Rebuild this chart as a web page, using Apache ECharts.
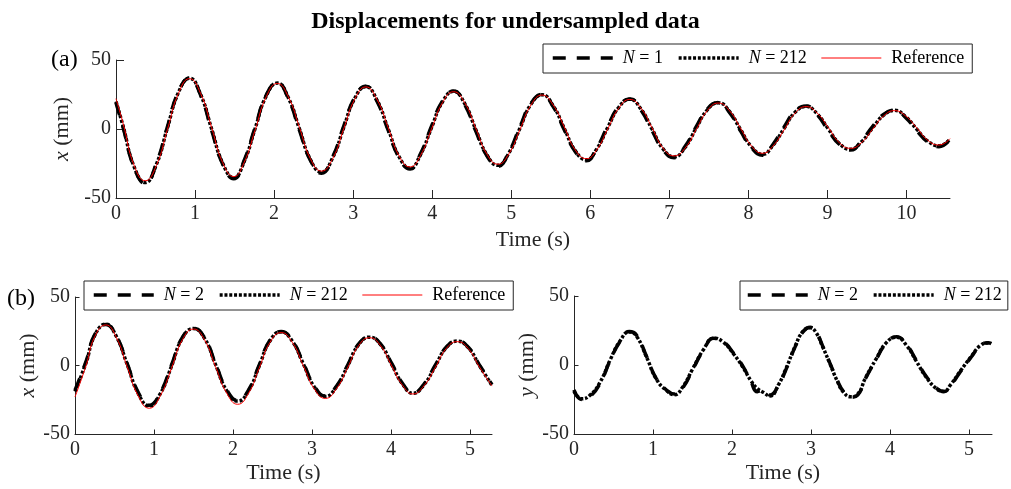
<!DOCTYPE html>
<html>
<head>
<meta charset="utf-8">
<title>Displacements for undersampled data</title>
<script src="https://cdn.jsdelivr.net/npm/echarts@6/dist/echarts.min.js"></script>
<style>
  html, body { margin: 0; padding: 0; background: #fff; }
  #chart { width: 1011px; height: 489px; }
</style>
</head>
<body>
<div id="chart"></div>
<script>
// (a) x displacement, full record
var tTop = [0, 0.09, 0.23, 0.37, 0.51, 0.65, 0.79, 0.93, 1.07, 1.21, 1.35, 1.49, 1.62, 1.76, 1.90, 2.04,
  2.18, 2.32, 2.46, 2.60, 2.74, 2.88, 3.02, 3.16, 3.30, 3.44, 3.58, 3.72, 3.85, 3.99, 4.13, 4.27,
  4.41, 4.55, 4.69, 4.83, 4.97, 5.11, 5.25, 5.39, 5.53, 5.67, 5.81, 5.95, 6.08, 6.22, 6.36, 6.50,
  6.64, 6.78, 6.92, 7.06, 7.20, 7.34, 7.48, 7.62, 7.76, 7.90, 8.04, 8.18, 8.31, 8.45, 8.59, 8.73,
  8.87, 9.01, 9.15, 9.29, 9.43, 9.57, 9.71, 9.85, 9.99, 10.13, 10.27, 10.41, 10.55];
var topN1 = [19, 1, -28, -39.5,
  -25, 1.5, 27, 37, 24.5, -1, -25.5, -36,
  -23, 1.2, 24.5, 33.5, 22, -0.8, -22.8, -32,
  -20.4, 2, 22.8, 31, 20.4, -0.5, -20.6, -29,
  -18.2, 1.8, 20.3, 27.5, 17.9, -1.3, -19.2, -27,
  -16.8, 1.6, 18.6, 25, 16.2, -0.5, -16.4, -23,
  -14, 2, 16.3, 21.8, 13.9, -1, -15, -20.8,
  -12.6, 1.7, 14.5, 19.2, 12.1, -1.4, -13.6, -19,
  -11.2, 1.3, 12.7, 16.6, 10.3, -0.9, -11.1, -15.3,
  -8.7, 1.7, 10.6, 13.7, 8.2, -1.2, -9.4, -12.8,
  -7.5];
var topN212 = [20, 2, -27.5, -38.8,
  -25.8, 0.8, 26.5, 36.8, 25, 0, -25, -35.3,
  -23.7, 0.4, 24, 33.3, 22.6, 0.2, -22.3, -31.3,
  -21, 1, 22.2, 30.8, 21, 0.5, -20, -28.5,
  -18.8, 0.8, 19.7, 27.3, 18.5, -0.3, -18.6, -26.3,
  -17.4, 0.6, 18, 24.8, 16.8, 0.5, -15.8, -22.3,
  -14.6, 1, 15.7, 21.6, 14.5, 0, -14.4, -20.2,
  -13.2, 0.7, 13.9, 19, 12.7, -0.4, -13, -18.3,
  -11.8, 0.3, 12.1, 16.4, 10.9, 0.1, -10.5, -14.7,
  -9.3, 0.7, 10, 13.5, 8.8, -0.2, -8.8, -12.2,
  -7.3];
var topRef = [22, 4, -26.5, -37.5,
  -26.5, -0.5, 25.8, 36.5, 25.8, 1, -24.4, -34.5,
  -24.4, -0.8, 23.3, 33, 23.3, 1.2, -21.6, -30.5,
  -21.6, 0, 21.6, 30.5, 21.6, 1.5, -19.4, -27.5,
  -19.4, -0.2, 19.1, 27, 19.1, 0.7, -18, -25.5,
  -18, -0.4, 17.4, 24.6, 17.4, 1.5, -15.2, -21.5,
  -15.2, 0, 15.1, 21.4, 15.1, 1, -13.8, -19.5,
  -13.8, -0.3, 13.3, 18.8, 13.3, 0.6, -12.4, -17.6,
  -12.4, -0.7, 11.5, 16.2, 11.5, 1.1, -9.9, -14,
  -9.9, -0.3, 9.4, 13.3, 9.4, 0.8, -8.2, -11.6,
  -7];

// (b) left: x displacement
var tBL = [0, 0.14, 0.25, 0.39, 0.52, 0.66, 0.80, 0.94, 1.08, 1.22, 1.36, 1.50, 1.64, 1.78, 1.92, 2.06,
  2.20, 2.33, 2.47, 2.61, 2.75, 2.89, 3.03, 3.17, 3.31, 3.45, 3.59, 3.73, 3.87, 4.01, 4.15, 4.28,
  4.42, 4.56, 4.70, 4.84, 4.98, 5.12, 5.28];
var blN2 = [-18, 3, 22.5, 30,
  22, 1.5, -19.5, -29, -20, 0, 20.5, 27.2,
  20.2, 1.3, -17.5, -25.5, -17.6, 0, 18.6, 24.8,
  18.2, 2, -15, -22.3, -15.2, 0, 15.6, 20.8,
  15.6, 1.5, -13.3, -20, -13.5, 0, 13.3, 18,
  13.3, 0.5, -14];
var blN212 = [-19, 2, 22, 30.2,
  21.6, 1, -20.3, -29.5, -20.6, -0.8, 20, 27,
  19.8, 0.6, -18.3, -26, -18.2, -0.7, 18.1, 24.6,
  17.8, 1.3, -15.6, -22.6, -15.6, -0.6, 15.2, 20.7,
  15.2, 0.8, -13.8, -20.3, -13.9, -0.6, 13, 17.8,
  13, 0, -14.5];
var blRef = [-23, 0, 21, 29.6,
  20.9, -0.8, -22.1, -31.2, -22.1, -2.3, 18.8, 26.6,
  18.8, -0.9, -20, -28.3, -20, -2.2, 17, 24,
  17, 0, -17, -24, -17, -1.9, 14.4, 20.3,
  14.4, -0.3, -14.7, -20.8, -14.7, -1.7, 12.3, 17.4,
  12.3, -1, -15];

// (b) right: y displacement
var tBR = [0, 0.10, 0.20, 0.33, 0.46, 0.58, 0.70, 0.79, 0.92, 1.04, 1.17, 1.27, 1.38, 1.50, 1.64, 1.77,
  1.89, 2.02, 2.14, 2.24, 2.32, 2.40, 2.48, 2.59, 2.68, 2.80, 2.90, 2.99, 3.06, 3.15, 3.24, 3.33,
  3.41, 3.50, 3.59, 3.69, 3.82, 3.95, 4.08, 4.21, 4.33, 4.46, 4.59, 4.68, 4.77, 4.89, 5.03, 5.14,
  5.24, 5.28];
var brN2 = [-18, -25, -23, -13.3, 3.6, 16.9, 24.2, 21.7, 6, -9.7, -18.1, -21, -16.2, -3.6, 10.9, 19.3,
  16.9, 8.5, -1.2, -12.1, -19.3, -18, -21.7, -14.5, -3.6, 13.3, 24.2, 27.3, 24.2, 13.3, 1.2, -10.9,
  -19.3, -23.4, -21.7, -9.7, 3.6, 15.7, 20.5, 14.5, 3.6, -8.5, -16.9, -19.3, -14.5, -4.8, 6, 13.8,
  16.2, 15.5];
var brN212 = [-19, -24.5, -22, -12.5, 4, 17.2, 24, 21, 5.5, -10, -18.5, -21.5, -15.5, -3, 11.3, 19.5,
  16.5, 8, -1.8, -11.5, -17, -20, -22.5, -14, -3, 13.8, 24.5, 27, 23.8, 12.8, 0.8, -11.4,
  -19.6, -23, -21.2, -9.2, 4, 16, 20.2, 14, 3, -9, -17.3, -19, -14, -4.3, 6.4, 14,
  16, 15.5];

var ticksTop = [0, 1, 2, 3, 4, 5, 6, 7, 8, 9, 10];
var ticksBottom = [0, 1, 2, 3, 4, 5];

var serif = 'Liberation Serif';
var ink = '#262626';

function pairs(t, v) {
  return t.map(function (x, i) { return [x, v[i]]; });
}

function xAxisFor(gi, max, ticks, tickLen, gap) {
  return {
    type: 'value', gridIndex: gi, min: 0, max: max,
    name: 'Time (s)', nameLocation: 'middle', nameGap: gap,
    nameTextStyle: { fontFamily: serif, fontSize: 22, color: ink },
    axisLine: { show: true, onZero: false, lineStyle: { color: ink, width: 1 } },
    axisTick: { show: true, inside: true, length: tickLen, customValues: ticks, lineStyle: { color: ink } },
    axisLabel: { customValues: ticks, margin: 6, fontFamily: serif, fontSize: 20, color: ink },
    splitLine: { show: false }
  };
}

function yAxisFor(gi, letter, tickLen) {
  return {
    type: 'value', gridIndex: gi, min: -50, max: 50, interval: 50,
    name: '{i|' + letter + '} (mm)', nameLocation: 'middle', nameGap: 31,
    nameTextStyle: {
      fontFamily: serif, fontSize: 22, color: ink,
      rich: { i: { fontFamily: serif, fontSize: 22, fontStyle: 'italic', color: ink } }
    },
    axisLine: { show: true, onZero: false, lineStyle: { color: ink, width: 1 } },
    axisTick: { show: true, inside: true, length: tickLen, lineStyle: { color: ink } },
    axisLabel: { margin: 5, fontFamily: serif, fontSize: 20, color: ink },
    splitLine: { show: false }
  };
}

var dashed = { color: '#000', width: 3.5, type: [13, 11] };
var dotted = { color: '#000', width: 3.5, type: [3, 1.8] };
var thinRed = { color: '#ff0000', width: 1 };

function line(name, gi, data, style) {
  return {
    name: name, type: 'line', xAxisIndex: gi, yAxisIndex: gi,
    data: data, showSymbol: false, symbol: 'none', smooth: 0.5,
    lineStyle: style, itemStyle: { color: style.color }
  };
}

function legendFor(left, top, names, padX) {
  return {
    left: left, top: top, width: 600, data: names, orient: 'horizontal',
    itemWidth: 60, itemHeight: 13, itemGap: 14,
    padding: [5, padX, 6, padX],
    borderColor: ink, borderWidth: 1, backgroundColor: '#fff',
    selectedMode: false,
    lineStyle: { width: 'inherit' },
    itemStyle: { color: 'rgba(0,0,0,0)', borderWidth: 0, opacity: 0 },
    textStyle: {
      fontFamily: serif, fontSize: 18, color: '#000', padding: [0, 0, 0, 5],
      rich: { i: { fontFamily: serif, fontSize: 18, fontStyle: 'italic', color: '#000' } }
    },
    formatter: function (name) {
      if (name.indexOf('N = ') === 0) return '{i|N} = ' + name.slice(4);
      return name;
    }
  };
}

var chart = echarts.init(document.getElementById('chart'), null, { renderer: 'canvas' });

var option = {
  animation: false,
  backgroundColor: '#fff',
  title: {
    text: 'Displacements for undersampled data',
    left: 'center', top: 5,
    textStyle: { fontFamily: serif, fontSize: 24, fontWeight: 'bold', color: '#000' }
  },
  graphic: [
    { type: 'text', left: 51, top: 48, style: { text: '(a)', font: '24px "Liberation Serif"', fill: '#000' } },
    { type: 'text', left: 7, top: 287, style: { text: '(b)', font: '24px "Liberation Serif"', fill: '#000' } }
  ],
  grid: [
    { left: 116, top: 60, width: 834, height: 138 },
    { left: 75, top: 297, width: 417, height: 137 },
    { left: 574, top: 296, width: 418, height: 138 }
  ],
  xAxis: [
    xAxisFor(0, 10.55, ticksTop, 8, 31),
    xAxisFor(1, 5.28, ticksBottom, 4.5, 28),
    xAxisFor(2, 5.29, ticksBottom, 4.5, 28)
  ],
  yAxis: [
    yAxisFor(0, 'x', 8),
    yAxisFor(1, 'x', 4.5),
    yAxisFor(2, 'y', 4.5)
  ],
  legend: [
    legendFor(543, 44, ['N = 1', 'N = 212', 'Reference'], 8),
    legendFor(84, 281, ['N = 2', 'N = 212', 'Reference'], 8),
    legendFor(740, 281, ['N = 2', 'N = 212'], 6)
  ],
  series: [
    line('N = 1', 0, pairs(tTop, topN1), dashed),
    line('N = 212', 0, pairs(tTop, topN212), dotted),
    line('Reference', 0, pairs(tTop, topRef), thinRed),
    line('N = 2', 1, pairs(tBL, blN2), dashed),
    line('N = 212', 1, pairs(tBL, blN212), dotted),
    line('Reference', 1, pairs(tBL, blRef), thinRed),
    line('N = 2', 2, pairs(tBR, brN2), dashed),
    line('N = 212', 2, pairs(tBR, brN212), dotted)
  ]
};

chart.setOption(option);
window.addEventListener('resize', chart.resize);
</script>
</body>
</html>
